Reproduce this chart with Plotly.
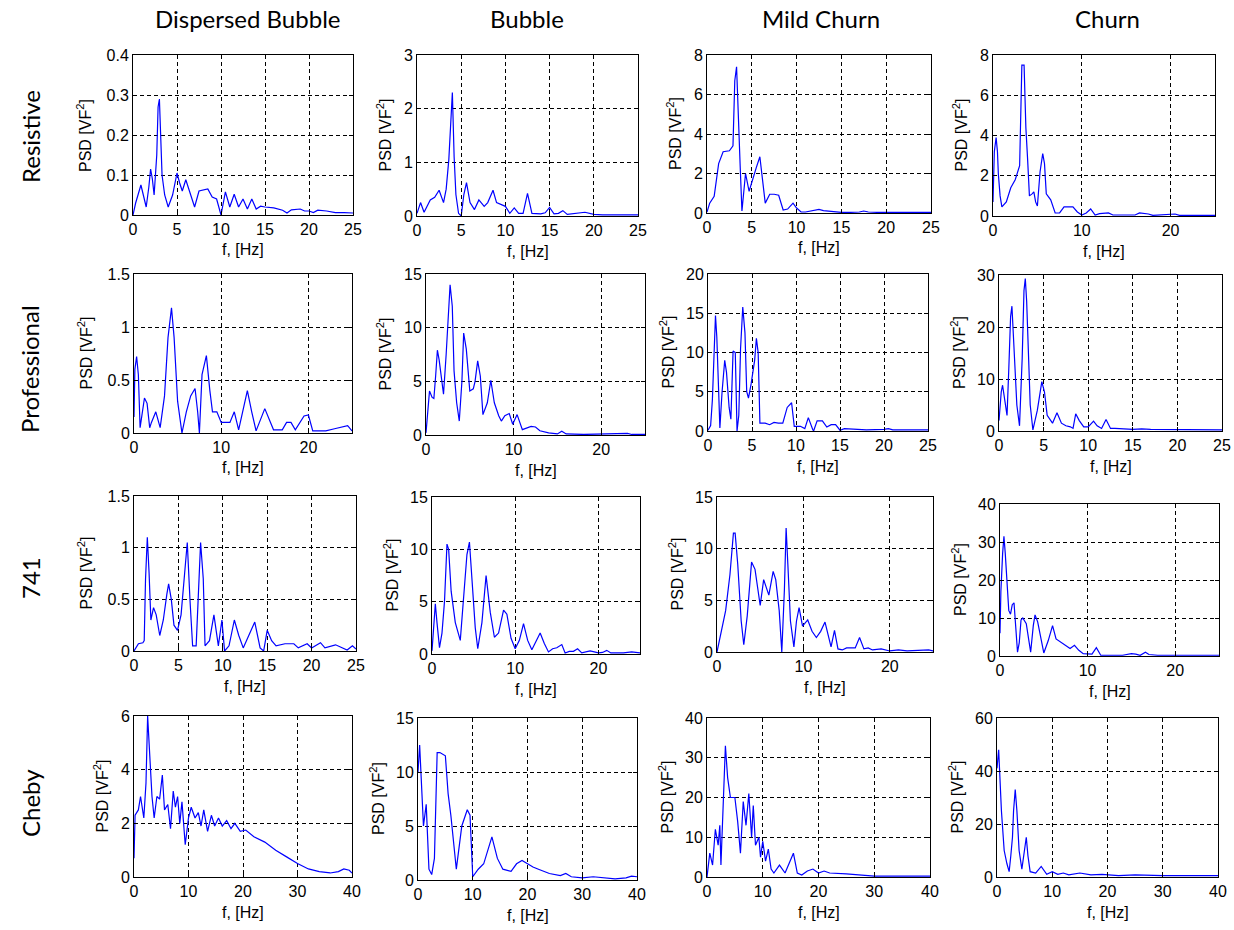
import plotly.graph_objects as go

col_titles = ["Dispersed Bubble", "Bubble", "Mild Churn", "Churn"]
row_titles = ["Resistive", "Professional", "741", "Cheby"]
x_label = "f, [Hz]"
y_label = "PSD [VF<sup>2</sup>]"

# ---------------- Resistive ----------------
f_res_db = [0,0.3,0.9,1.5,1.8,2.0,2.2,2.4,2.7,2.85,3.0,3.15,3.3,3.6,4.0,4.5,5.0,5.3,5.6,6.0,6.4,7.0,7.5,8.0,8.5,9.0,9.5,10.0,10.5,11.0,11.5,12.0,12.5,13.0,13.5,14.0,14.5,15,16,17,17.5,18,19,19.5,20,20.5,21,22,23,24,25]
psd_res_db = [0,0.03,0.075,0.02,0.07,0.115,0.09,0.05,0.15,0.27,0.29,0.21,0.1,0.05,0.02,0.05,0.105,0.08,0.06,0.088,0.06,0.02,0.06,0.062,0.065,0.045,0.04,0.0,0.058,0.02,0.052,0.02,0.04,0.015,0.04,0.015,0.022,0.02,0.018,0.012,0.005,0.013,0.015,0.01,0.01,0.006,0.012,0.01,0.006,0.006,0.005]

f_res_b = [0,0.4,0.8,1.3,1.5,2.0,2.5,3.0,3.3,3.6,3.8,4.0,4.2,4.4,4.7,5.0,5.3,5.6,6.0,6.5,7.0,7.6,8.0,8.6,9.0,9.5,10,10.5,11,11.5,12,12.5,13,14,14.5,15,15.5,16,16.5,17,18,19,20,21,25]
psd_res_b = [0.05,0.25,0.07,0.25,0.3,0.35,0.48,0.25,0.5,1.05,1.8,2.3,1.1,0.4,0.05,0.0,0.4,0.62,0.25,0.12,0.3,0.18,0.25,0.48,0.25,0.22,0.18,0.05,0.15,0.05,0.05,0.42,0.05,0.04,0.06,0.16,0.04,0.05,0.1,0.03,0.05,0.07,0.03,0.02,0.02]

f_res_mc = [0,0.3,0.8,1.3,1.8,2.5,2.9,3.1,3.3,3.5,3.7,3.9,4.1,4.3,4.7,5.0,5.5,5.9,6.2,6.5,7.0,7.5,8.0,8.5,9.0,9.6,10.0,10.5,11,12,12.5,13,14,15,16,17,17.5,18,19,25]
psd_res_mc = [0.05,0.5,0.85,2.5,3.1,3.15,3.4,6.7,7.4,4.3,2.4,0.1,1.0,2.0,1.1,1.6,2.3,2.85,1.8,0.5,0.95,0.95,0.9,0.15,0.2,0.5,0.25,0.05,0.05,0.15,0.18,0.12,0.08,0.03,0.03,0.05,0.1,0.05,0.03,0.03]

f_res_c = [0,0.05,0.15,0.35,0.5,0.6,0.8,1.0,1.5,2.0,2.5,3.0,3.1,3.25,3.5,3.7,3.9,4.1,4.4,4.6,4.8,5.0,5.3,5.6,5.8,6.0,6.5,7.0,7.5,8.0,9.0,9.5,10,10.5,11,11.5,12,13,13.5,16,16.5,17.5,18,20.5,21,25]
psd_res_c = [0.7,2.0,3.2,3.9,3.2,2.1,1.0,0.45,0.7,1.4,1.8,2.5,4.3,7.5,7.5,4.4,2.8,1.0,1.1,1.2,0.7,0.5,2.2,3.1,2.6,1.1,0.8,0.15,0.15,0.45,0.45,0.2,0.05,0.15,0.35,0.05,0.12,0.15,0.05,0.05,0.15,0.1,0.03,0.1,0.03,0.03]

# ---------------- Professional ----------------
f_pro_db = [0,0.1,0.3,0.5,0.7,1.0,1.2,1.5,1.8,2.0,2.5,3.0,3.5,3.9,4.3,4.6,5.0,5.5,6.0,6.5,7.0,7.3,7.5,7.8,8.3,8.7,9.0,9.5,10,11,11.5,12,13,13.5,14,15,16,17,17.5,18,18.5,19.5,20,20.5,22,23,24.5,25]
psd_pro_db = [0.15,0.6,0.72,0.55,0.05,0.2,0.33,0.28,0.05,0.1,0.2,0.05,0.35,0.9,1.18,0.9,0.3,0.0,0.2,0.35,0.42,0.2,0.0,0.55,0.73,0.4,0.2,0.2,0.1,0.1,0.2,0.03,0.4,0.2,0.02,0.23,0.03,0.03,0.1,0.1,0.03,0.16,0.17,0.02,0.02,0.04,0.07,0.02]

f_pro_b = [0,0.2,0.4,0.7,0.9,1.1,1.3,1.5,1.7,2.0,2.3,2.5,2.75,3.0,3.2,3.5,3.8,4.1,4.3,4.6,5.0,5.4,5.6,5.9,6.2,6.5,7.0,7.4,7.8,8.3,8.6,9.0,9.5,9.9,10.4,11,12,12.5,13,14,15,15.5,16,18,20,23,23.5,25]
psd_pro_b = [0.2,2.5,4.1,3.5,3.4,5.5,7.9,7.0,5.5,3.8,7.5,10.0,14.0,12.0,6.0,3.0,1.3,5.0,9.5,8.0,4.1,4.3,5.0,6.9,5.5,1.9,3.0,5.1,3.0,1.8,1.3,1.8,2.0,1.0,1.9,0.5,0.8,0.75,0.4,0.2,0.1,0.35,0.1,0.05,0.1,0.15,0.05,0.05]

f_pro_mc = [0,0.3,0.5,0.7,0.85,1.0,1.2,1.35,1.6,1.9,2.1,2.4,2.6,2.85,3.1,3.3,3.5,3.7,3.95,4.2,4.4,4.6,4.9,5.3,5.5,5.7,5.9,6.5,7.0,7.5,8.0,8.5,9.0,9.5,9.8,10.5,11,11.4,11.9,12.0,12.4,13,13.5,14,14.5,15,15.5,17,18,20,20.5,21,25]
psd_pro_mc = [0.1,0.7,4.0,11.0,14.7,12.0,4.0,0.4,5.0,9.0,7.5,3.0,1.5,10.2,10.0,0.0,2.0,10.5,15.8,12.5,5.0,4.2,6.0,9.0,11.8,10.0,1.0,1.0,0.8,1.1,1.0,1.0,3.0,3.6,0.6,0.6,0.3,1.7,0.2,0.0,1.3,1.3,0.5,0.8,0.8,0.1,0.3,0.2,0.15,0.2,0.3,0.15,0.15]

f_pro_c = [0,0.1,0.25,0.4,0.7,0.9,1.1,1.3,1.45,1.6,1.8,2.0,2.3,2.6,2.8,2.95,3.1,3.3,3.5,3.8,4.3,4.8,5.1,5.4,6.0,6.5,7.0,7.5,8.0,8.3,8.6,9.0,9.5,10,10.6,11,11.5,12.0,12.5,13,14,15,16,17,25]
psd_pro_c = [2.0,5.0,7.5,8.8,5.0,3.0,12.0,22.0,24.0,19.0,10.0,5.0,1.0,14.0,27.0,29.3,25.0,14.0,5.0,0.2,4.0,9.5,7.5,3.0,1.5,3.5,1.5,1.0,0.8,0.5,3.3,2.0,0.8,0.8,1.9,1.0,0.5,2.2,0.5,0.5,0.4,0.3,0.4,0.3,0.2]

# ---------------- 741 ----------------
f_741_db = [0,0.5,1.0,1.15,1.3,1.5,1.7,1.9,2.2,2.5,2.9,3.3,3.7,3.9,4.2,4.5,4.9,5.3,5.7,6.0,6.3,6.6,7.0,7.3,7.5,7.8,8.0,8.5,9.0,9.5,9.9,10.2,10.7,11.3,11.8,12.3,13.6,14.2,14.6,15.0,15.5,16,17,18,18.5,19.5,20,21,21.5,22.7,23.5,24,24.6,25]
psd_741_db = [0,0.07,0.08,0.1,0.7,1.1,0.75,0.3,0.42,0.35,0.15,0.3,0.55,0.65,0.5,0.25,0.2,0.35,0.75,1.05,0.5,0.05,0.05,0.6,1.05,0.7,0.05,0.1,0.35,0.05,0.3,0.0,0.05,0.3,0.15,0.03,0.28,0.03,0.0,0.2,0.1,0.05,0.07,0.07,0.03,0.07,0.03,0.08,0.03,0.06,0.03,0.01,0.05,0.02]

f_741_b = [0,0.2,0.4,0.6,0.9,1.2,1.5,1.8,2.0,2.3,2.8,3.4,3.8,4.2,4.5,4.8,5.2,5.5,6.0,6.5,7.0,7.5,8.0,8.6,9.0,9.5,10,10.5,11,11.5,12,13,13.5,14,14.5,15,15.6,16,16.5,17,17.5,18,19,19.5,20,20.5,21,21.5,23,24,25]
psd_741_b = [0.3,3.0,4.8,3.0,0.6,2.0,5.0,10.5,10.0,6.0,3.0,1.3,5.0,9.5,10.7,7.0,2.5,0.5,3.0,7.5,4.0,1.6,2.0,4.2,3.8,1.5,0.5,1.3,2.9,1.3,0.4,2.0,1.0,0.2,0.5,0.6,0.9,0.1,0.25,0.25,0.5,0.1,0.3,0.2,0.1,0.15,0.35,0.1,0.1,0.2,0.1]

f_741_mc = [0,0.5,1.0,1.5,1.9,2.1,2.4,2.8,3.1,3.5,4.0,4.4,4.7,5.0,5.4,5.6,6.0,6.5,6.8,7.2,7.5,7.8,8.0,8.2,8.5,8.9,9.2,9.5,9.9,10.5,11.0,11.5,12.0,12.5,13.0,13.2,13.6,14.0,14.5,15,16,16.5,17.0,17.5,18,19,20,21,22,24.5,25]
psd_741_mc = [0,2.0,4.0,7.5,11.5,11.5,8.5,3.0,0.7,3.5,8.7,8.0,6.0,4.5,7.0,6.5,5.5,7.8,7.0,4.0,0.0,6.0,12.0,8.5,3.0,0.5,3.0,4.3,2.5,3.1,2.0,1.4,2.0,2.9,1.0,0.5,2.1,0.3,0.2,0.4,0.4,1.4,0.3,0.4,0.2,0.3,0.1,0.2,0.1,0.2,0.1]

f_741_c = [0,0.1,0.3,0.45,0.6,0.8,1.0,1.2,1.4,1.6,1.8,2.0,2.2,2.4,2.6,3.0,3.3,3.5,3.8,4.0,4.3,4.7,5.0,5.5,6.0,6.4,7.0,8.0,8.5,9.0,9.5,10,10.5,11.0,11.5,14,15,15.5,16,16.6,17,18,25]
psd_741_c = [6.0,17.0,27.0,31.5,27.0,20.0,12.0,11.0,13.5,14.0,8.0,1.0,3.5,9.5,10.0,8.5,4.0,1.0,8.0,10.8,9.0,4.0,0.8,4.0,8.0,4.5,3.5,2.0,2.8,1.5,0.6,0.5,0.5,2.2,0.2,0.2,0.6,0.5,0.2,1.0,0.4,0.2,0.2]

# ---------------- Cheby ----------------
f_che_db = [0,0.2,0.8,1.2,1.8,2.2,2.5,2.8,3.3,3.7,4.2,4.7,5.2,5.6,6.2,6.7,7.2,7.6,8.0,8.4,8.8,9.4,10.0,10.5,11.2,11.8,12.3,12.8,13.5,14.2,14.8,15.5,16.2,17.0,17.8,18.5,19.5,20.5,22,24,26,28,30,32,34,36,37.5,38.5,39.5,40]
psd_che_db = [0.7,2.3,2.5,3.0,2.2,3.5,6.0,5.0,3.0,2.2,3.0,2.9,3.8,2.5,2.7,1.8,3.2,2.6,3.0,2.0,2.8,1.2,2.2,2.6,2.2,2.4,1.9,2.5,1.7,2.3,1.9,2.2,1.9,2.1,1.8,2.0,1.7,1.75,1.5,1.3,1.0,0.75,0.5,0.3,0.2,0.15,0.2,0.3,0.25,0.15]

f_che_b = [0,0.3,1.0,1.5,2.0,2.5,3.0,3.5,4.0,5.0,5.5,6.0,7.0,7.5,8.0,9.0,9.5,10.0,11,12,13.5,14.5,15.5,17,18,19,21,22,24,26,27,28,30,32,34,36,38,39,40]
psd_che_b = [10.0,12.5,5.0,7.0,1.0,0.5,2.0,11.8,11.8,11.5,8.0,6.0,1.0,3.0,5.0,6.5,6.0,0.3,1.0,1.5,4.0,2.0,1.0,0.8,1.5,1.8,1.2,1.0,0.6,0.4,0.6,0.3,0.2,0.3,0.2,0.1,0.2,0.35,0.3]

f_che_mc = [0,0.5,1.0,1.5,2.0,2.3,2.5,2.8,3.0,3.3,3.7,4.2,5.0,5.5,6.0,6.5,7.0,7.5,8.0,8.3,8.7,9.3,9.6,10.0,10.5,11.0,11.5,12,13,14,15.5,16.2,17,18,19,20,21,22,25,27,30,40]
psd_che_mc = [0,6,3,12,8,13,3,15,25,33,25,20,20,14,6,19,13,21,10,18,8,10,5,9,4,7,2,1,3,1,6,1,0.5,1.5,2,1,1.5,1,0.8,0.5,0.2,0.2]

f_che_c = [0,0.3,0.8,1.3,1.8,2.2,2.5,2.8,3.0,3.3,3.6,4.0,4.5,5.0,5.3,5.6,6.0,7.0,8.0,9.0,10,11,12,13,15,17,19,22,25,30,40]
psd_che_c = [41,48,25,10,5,2,8,15,25,33,25,10,3,10,15,8,2,1.5,4,1,2,1,1.5,0.8,1.5,0.8,1,0.5,0.8,0.5,0.5]

# Axis limits / tick steps (per row, per column)
x_max = [[25, 25, 25, 25], [25, 25, 25, 25], [25, 25, 25, 25], [40, 40, 40, 40]]
x_step = [[5, 5, 5, 10], [10, 10, 5, 5], [5, 10, 10, 10], [10, 10, 10, 10]]
y_max = [[0.4, 3, 8, 8], [1.5, 15, 20, 30], [1.5, 15, 15, 40], [6, 15, 40, 60]]
y_step = [[0.1, 1, 2, 2], [0.5, 5, 5, 10], [0.5, 5, 5, 10], [2, 5, 10, 20]]

series = [
    [(f_res_db, psd_res_db), (f_res_b, psd_res_b), (f_res_mc, psd_res_mc), (f_res_c, psd_res_c)],
    [(f_pro_db, psd_pro_db), (f_pro_b, psd_pro_b), (f_pro_mc, psd_pro_mc), (f_pro_c, psd_pro_c)],
    [(f_741_db, psd_741_db), (f_741_b, psd_741_b), (f_741_mc, psd_741_mc), (f_741_c, psd_741_c)],
    [(f_che_db, psd_che_db), (f_che_b, psd_che_b), (f_che_mc, psd_che_mc), (f_che_c, psd_che_c)],
]

# ---------------- layout geometry (pixels) ----------------
W, H = 1234, 930
boxes = [
    [(133, 353, 55, 215), (417, 638, 55, 216), (707, 931, 55, 213), (993, 1215, 55, 216)],
    [(134, 352, 274, 433), (426, 645, 274, 435), (708, 928, 274, 431), (999, 1222, 275, 431)],
    [(134, 356, 496, 651), (432, 640, 497, 654), (717, 933, 497, 652), (1000, 1219, 504, 656)],
    [(134, 352, 716, 877), (418, 637, 718, 880), (707, 930, 718, 877), (997, 1218, 718, 877)],
]
col_x = [247, 527, 821, 1107]
row_y = [137, 369, 578, 803]

FONT = "Liberation Sans, Arial, sans-serif"
TITLE_FONT = "Lato, Open Sans, sans-serif"
tick_font = dict(family=FONT, size=16, color="black")
label_font = dict(family=FONT, size=16, color="black")
axis_common = dict(
    showline=True, linecolor="black", linewidth=1, mirror="ticks",
    ticks="inside", ticklen=4, tickcolor="black",
    showgrid=True, gridcolor="black", griddash="4px,3px", gridwidth=1,
    zeroline=False, tickfont=tick_font, automargin=False,
)

fig = go.Figure()
layout = {}
annotations = []
for i in range(4):
    for j in range(4):
        k = i * 4 + j + 1
        sfx = "" if k == 1 else str(k)
        fx, py = series[i][j]
        fig.add_trace(go.Scatter(
            x=fx, y=py, mode="lines",
            line=dict(color="#0000FF", width=1.2),
            xaxis="x" + sfx, yaxis="y" + sfx,
            showlegend=False, hoverinfo="skip",
        ))
        x0, x1, y0, y1 = boxes[i][j]
        layout["xaxis" + sfx] = dict(
            axis_common, domain=[x0 / W, x1 / W], anchor="y" + sfx,
            range=[0, x_max[i][j]], tick0=0, dtick=x_step[i][j],
        )
        layout["yaxis" + sfx] = dict(
            axis_common, domain=[1 - y1 / H, 1 - y0 / H], anchor="x" + sfx,
            range=[0, y_max[i][j]], tick0=0, dtick=y_step[i][j],
        )
        # axis labels as annotations
        annotations.append(dict(
            text=x_label, x=(x0 + x1) / 2 / W, y=1 - (y1 + 35) / H,
            xref="paper", yref="paper", xanchor="center", yanchor="middle",
            showarrow=False, font=label_font,
        ))
        nchar = len(("%g" % y_max[i][j]))
        off = 25 + 8 * nchar
        annotations.append(dict(
            text=y_label, x=(x0 - off) / W, y=1 - (y0 + y1) / 2 / H,
            xref="paper", yref="paper", xanchor="center", yanchor="middle",
            showarrow=False, textangle=-90, font=label_font,
        ))

for j, t in enumerate(col_titles):
    annotations.append(dict(
        text=t, x=col_x[j] / W, y=1 - 18 / H, xref="paper", yref="paper",
        xanchor="center", yanchor="middle", showarrow=False,
        font=dict(family=TITLE_FONT, size=24, color="black"),
    ))
for i, t in enumerate(row_titles):
    annotations.append(dict(
        text=t, x=30 / W, y=1 - row_y[i] / H, xref="paper", yref="paper",
        xanchor="center", yanchor="middle", showarrow=False, textangle=-90,
        font=dict(family=TITLE_FONT, size=24, color="black"),
    ))

fig.update_layout(
    **layout,
    annotations=annotations,
    width=W, height=H,
    margin=dict(l=0, r=0, t=0, b=0),
    paper_bgcolor="white", plot_bgcolor="white",
    showlegend=False,
)
fig.write_html("out.html", include_plotlyjs=True, full_html=True)
